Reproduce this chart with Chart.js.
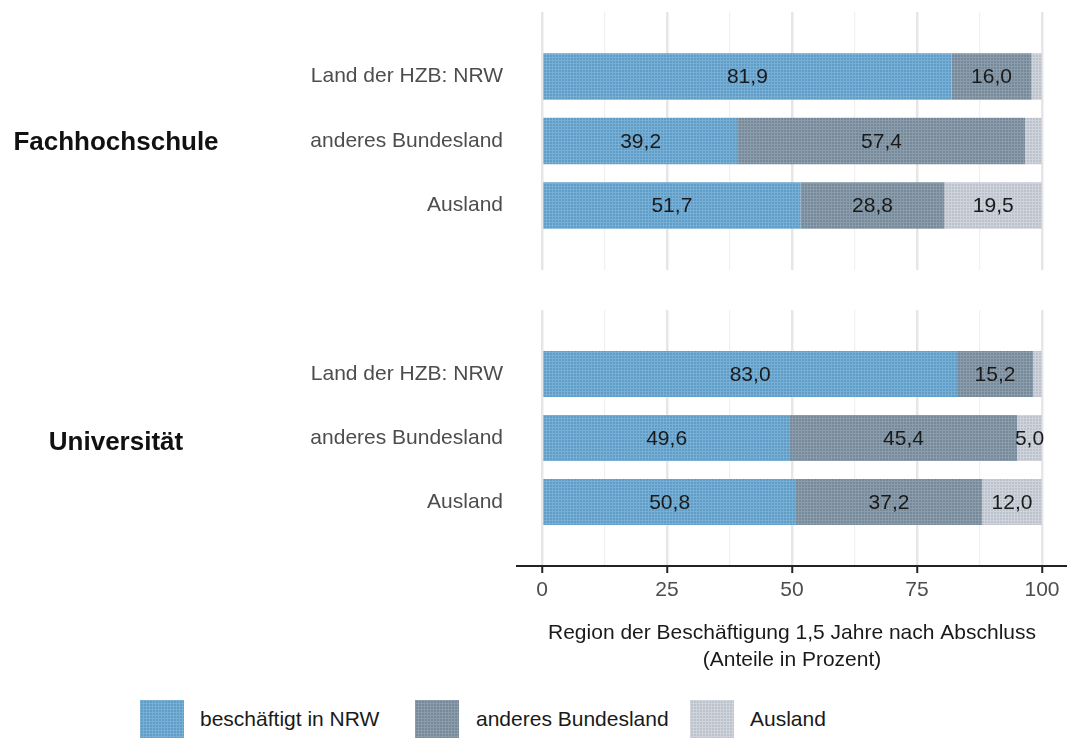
<!DOCTYPE html>
<html>
<head>
<meta charset="utf-8">
<script src="https://cdn.jsdelivr.net/npm/chart.js@4"></script>
<style>
  body { margin: 0; background: #fff; font-family: "Liberation Sans", Arial, sans-serif; }
  #wrap { position: relative; width: 1067px; height: 738px; overflow: hidden; }
  canvas.chart { position: absolute; left: 0; }
  .facet { position: absolute; width: 232px; left: 0; text-align: center; font-weight: bold; font-size: 26px; color: #111; line-height: 30px; }
  .sw { position: absolute; width: 44px; height: 38px; top: 700px; }
  .lt { position: absolute; top: 707px; font-size: 21px; color: #1a1a1a; line-height: 24px; }
</style>
</head>
<body>
<div id="wrap">
  <canvas id="topChart" class="chart" style="top:0px"></canvas>
  <canvas id="bottomChart" class="chart" style="top:298px"></canvas>
  <div class="facet" style="top:126px">Fachhochschule</div>
  <div class="facet" style="top:426px">Universität</div>
  <div id="sw0" class="sw" style="left:140px"></div><div class="lt" style="left:200px">beschäftigt in NRW</div>
  <div id="sw1" class="sw" style="left:415px"></div><div class="lt" style="left:476px">anderes Bundesland</div>
  <div id="sw2" class="sw" style="left:690px"></div><div class="lt" style="left:750px">Ausland</div>
</div>
<script>
// Values (percent shares)
const categories = ['Land der HZB: NRW', 'anderes Bundesland', 'Ausland'];
const seriesNames = ['beschäftigt in NRW', 'anderes Bundesland', 'Ausland'];

const fhNRW = [81.9, 39.2, 51.7];
const fhBund = [16.0, 57.4, 28.8];
const fhAusland = [2.1, 3.4, 19.5];

const uniNRW = [83.0, 49.6, 50.8];
const uniBund = [15.2, 45.4, 37.2];
const uniAusland = [1.8, 5.0, 12.0];

const xTicks = [0, 12.5, 25, 37.5, 50, 62.5, 75, 87.5, 100];

const FONT = '"Liberation Sans", Arial, sans-serif';

// fine grid texture like the original bars
function makeTile(base, line) {
    const c = document.createElement('canvas');
    c.width = 3; c.height = 3;
    const g = c.getContext('2d');
    g.fillStyle = base; g.fillRect(0, 0, 3, 3);
    g.fillStyle = line; g.fillRect(0, 0, 3, 1); g.fillRect(0, 0, 1, 3);
    return c;
}
const tiles = [
    makeTile('#5f9cc7', '#78afd5'),
    makeTile('#76899a', '#8b9caa'),
    makeTile('#bcc2cc', '#cfd3db')
];
const patterns = tiles.map(t => t.getContext('2d').createPattern(t, 'repeat'));

tiles.forEach((t, i) => {
    const el = document.getElementById('sw' + i);
    el.style.backgroundImage = `url(${t.toDataURL()})`;
});

// pad the category axis by one empty slot each side (panel expansion)
const pad = arr => [null, ...arr, null];
const paddedLabels = ['', ...categories, ''];

function makeDatasets(a, b, c) {
    return [a, b, c].map((vals, i) => ({
        label: seriesNames[i],
        data: pad(vals),
        backgroundColor: patterns[i],
        borderWidth: 0,
        barPercentage: 0.72,
        categoryPercentage: 1
    }));
}

// value labels centred in each segment (only >= 5)
const valueLabels = {
    id: 'valueLabels',
    afterDatasetsDraw(chart) {
        const ctx = chart.ctx;
        ctx.save();
        ctx.font = `21px ${FONT}`;
        ctx.fillStyle = '#1a1a1a';
        ctx.textAlign = 'center';
        ctx.textBaseline = 'middle';
        chart.data.datasets.forEach((ds, di) => {
            chart.getDatasetMeta(di).data.forEach((bar, i) => {
                const v = ds.data[i];
                if (v == null || v < 5) return;
                const { x, base, y } = bar.getProps(['x', 'base', 'y'], true);
                ctx.fillText(v.toFixed(1).replace('.', ','), (x + base) / 2, y + 1);
            });
        });
        ctx.restore();
    }
};

const isMajor = v => v % 25 === 0;

function yAxis() {
    return {
        type: 'category',
        offset: false,
        stacked: true,
        grid: { display: false, drawTicks: false },
        border: { display: false },
        ticks: { color: '#4d4d4d', font: { size: 21, family: FONT }, padding: 14, autoSkip: false },
        afterFit(s) {
            s.width = 517;
            s.paddingTop = 0;
            s.paddingBottom = 0;
        }
    };
}

function xAxis(showAxis) {
    return {
        type: 'linear',
        min: -5,
        max: 105,
        stacked: true,
        afterBuildTicks(s) { s.ticks = xTicks.map(v => ({ value: v })); },
        grid: {
            color: c => isMajor(c.tick.value) ? '#e6e6e6' : '#f0f0f0',
            lineWidth: c => isMajor(c.tick.value) ? 2.5 : 1.2,
            drawTicks: showAxis,
            tickLength: 7,
            tickColor: c => isMajor(c.tick.value) ? '#222' : 'rgba(0,0,0,0)',
            tickWidth: 2
        },
        border: { display: showAxis, color: '#222', width: 2 },
        ticks: {
            display: showAxis,
            autoSkip: false,
            maxRotation: 0,
            color: '#4d4d4d',
            font: { size: 21, family: FONT },
            padding: 5,
            callback: v => isMajor(v) ? String(v) : ''
        },
        title: {
            display: showAxis,
            text: ['Region der Beschäftigung 1,5 Jahre nach Abschluss', '(Anteile in Prozent)'],
            color: '#1a1a1a',
            font: { size: 21, family: FONT, lineHeight: 1.29 },
            padding: { top: 0, bottom: 6 }
        },
        afterFit(s) {
            s.height = showAxis ? 114 : 0;
            s.paddingLeft = 0;
            s.paddingRight = 0;
        }
    };
}

function buildChart(id, height, datasets, showAxis) {
    const canvas = document.getElementById(id);
    canvas.width = 1067;
    canvas.height = height;
    canvas.style.width = '1067px';
    canvas.style.height = height + 'px';
    return new Chart(canvas, {
        type: 'bar',
        data: { labels: paddedLabels, datasets: datasets },
        options: {
            indexAxis: 'y',
            responsive: false,
            animation: false,
            devicePixelRatio: 1,
            layout: { padding: { top: 12, left: 0, right: 0, bottom: 0 } },
            plugins: { legend: { display: false }, tooltip: { enabled: false } },
            scales: { x: xAxis(showAxis), y: yAxis() }
        },
        plugins: [valueLabels]
    });
}

buildChart('topChart', 270, makeDatasets(fhNRW, fhBund, fhAusland), false);
buildChart('bottomChart', 382, makeDatasets(uniNRW, uniBund, uniAusland), true);
</script>
</body>
</html>
